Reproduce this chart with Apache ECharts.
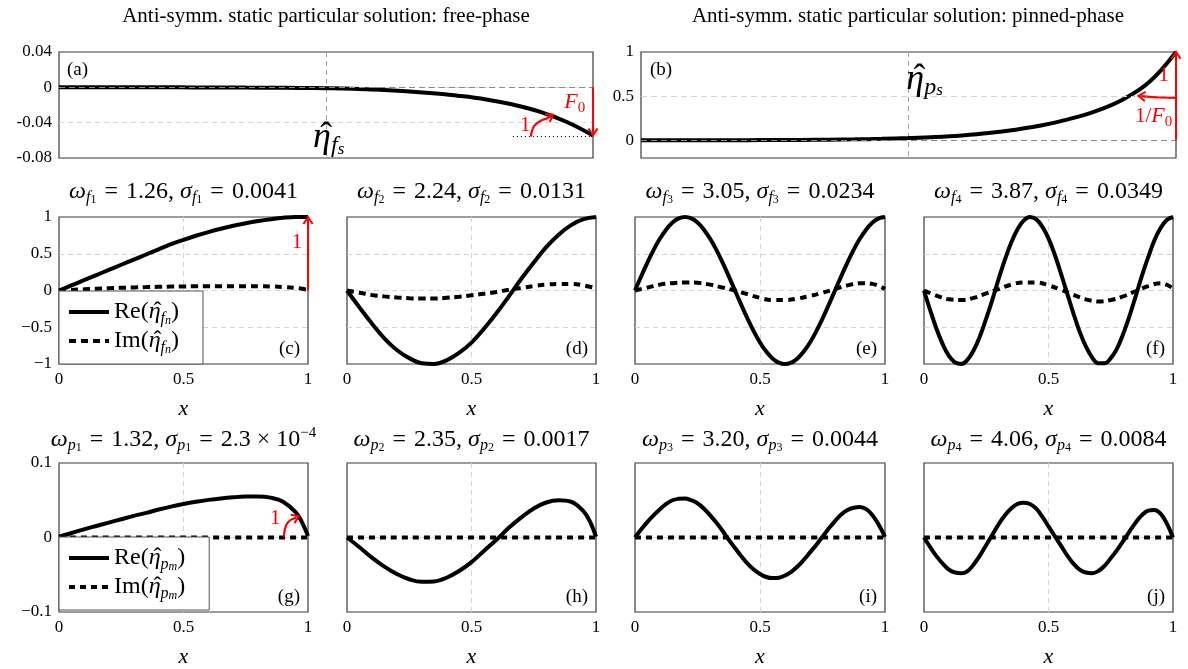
<!DOCTYPE html>
<html>
<head>
<meta charset="utf-8">
<script src="https://cdn.jsdelivr.net/npm/echarts@6/dist/echarts.min.js"></script>
<style>
html,body{margin:0;padding:0;background:#fff}
#chart{width:1188px;height:669px}
</style>
</head>
<body>
<div id="chart"></div>
<script>
// sample positions along x
var xCoarse = [0,0.05,0.1,0.15,0.2,0.25,0.3,0.35,0.4,0.45,0.5,0.55,0.6,0.65,0.7,0.75,0.8,0.85,0.9,0.95,1];
var xFine = [0,0.025,0.05,0.075,0.1,0.125,0.15,0.175,0.2,0.225,0.25,0.275,0.3,0.325,0.35,0.375,0.4,0.425,0.45,0.475,0.5,
  0.525,0.55,0.575,0.6,0.625,0.65,0.675,0.7,0.725,0.75,0.775,0.8,0.825,0.85,0.875,0.9,0.925,0.95,0.975,1];
var xEdge = [0,0.05,0.1,0.15,0.2,0.25,0.3,0.35,0.4,0.45,0.5,0.55,0.6,0.65,0.7,0.75,0.8,0.85,0.9,0.95,0.975,1];
var xEnds = [0,1];

// static particular solutions (a), (b)
var staticFree = [0,0,0,0,0,-0.0001,-0.0002,-0.0003,-0.0004,-0.0007,-0.001,-0.0016,-0.0028,-0.0045,-0.0068,-0.0097,-0.0137,-0.0195,-0.0275,-0.039,-0.0545];
var staticPinned = [0,0.0005,0.001,0.0015,0.002,0.003,0.005,0.007,0.011,0.017,0.026,0.038,0.056,0.082,0.12,0.17,0.24,0.33,0.46,0.66,1.0];

// free-phase modes (c)-(f)
var reF1 = [0,0.07,0.14,0.21,0.28,0.35,0.42,0.49,0.56,0.63,0.69,0.745,0.795,0.84,0.88,0.915,0.945,0.97,0.99,1.0,1.0];
var imF1 = [0,0.008,0.016,0.024,0.031,0.037,0.042,0.046,0.05,0.053,0.055,0.057,0.058,0.059,0.059,0.059,0.058,0.055,0.048,0.035,0.01];
var reF2 = [0,-0.23,-0.45,-0.65,-0.81,-0.92,-0.99,-1.0,-0.95,-0.85,-0.71,-0.52,-0.31,-0.08,0.16,0.38,0.59,0.76,0.89,0.97,1.0];
var imF2 = [0,-0.03,-0.06,-0.08,-0.095,-0.105,-0.11,-0.11,-0.1,-0.085,-0.065,-0.045,-0.02,0.01,0.035,0.06,0.08,0.09,0.09,0.07,0.03];
var reF3 = [0,0.195,0.383,0.556,0.707,0.831,0.924,0.981,1,0.981,0.924,0.831,0.707,0.556,0.383,0.195,0,-0.195,-0.383,-0.556,-0.707,
  -0.831,-0.924,-0.981,-1,-0.981,-0.924,-0.831,-0.707,-0.556,-0.383,-0.195,0,0.195,0.383,0.556,0.707,0.831,0.924,0.981,1];
var imF3 = [0,0.04,0.08,0.1,0.11,0.105,0.08,0.04,0,-0.05,-0.1,-0.13,-0.13,-0.11,-0.075,-0.03,0.02,0.07,0.1,0.09,0.02];
var reF4 = [0,-0.27,-0.52,-0.73,-0.89,-0.98,-1.0,-0.94,-0.81,-0.62,-0.38,-0.12,0.16,0.42,0.65,0.83,0.95,1.0,0.97,0.87,0.71,
  0.49,0.23,-0.04,-0.31,-0.56,-0.76,-0.91,-0.99,-0.99,-0.92,-0.79,-0.59,-0.35,-0.08,0.2,0.45,0.68,0.85,0.96,1.0];
var imF4 = [0,-0.07,-0.12,-0.13,-0.1,-0.04,0.02,0.08,0.11,0.11,0.07,0.01,-0.06,-0.12,-0.15,-0.13,-0.08,-0.01,0.06,0.1,0.03];

// pinned-phase modes (g)-(j)
var reP1 = [0.001,0.006,0.011,0.0155,0.02,0.0245,0.029,0.033,0.0375,0.0415,0.045,0.048,0.0505,0.0525,0.054,0.055,0.0552,0.0535,0.048,0.034,0.021,0.002];
var reP2 = [0,-0.013,-0.027,-0.039,-0.049,-0.056,-0.0595,-0.059,-0.054,-0.045,-0.033,-0.018,-0.003,0.013,0.027,0.039,0.047,0.05,0.048,0.035,0.022,0.001];
var reP3 = [0,0.011,0.021,0.03,0.038,0.045,0.05,0.052,0.0525,0.05,0.046,0.039,0.03,0.02,0.009,-0.003,-0.014,-0.025,-0.035,-0.043,-0.049,
  -0.053,-0.0545,-0.054,-0.051,-0.046,-0.039,-0.03,-0.02,-0.01,0.001,0.012,0.022,0.031,0.037,0.04,0.041,0.038,0.03,0.017,0.001];
var reP4 = [0,-0.013,-0.025,-0.035,-0.043,-0.047,-0.048,-0.045,-0.036,-0.024,-0.01,0.004,0.018,0.03,0.039,0.045,0.0465,0.045,0.039,0.028,0.015,
  0.002,-0.011,-0.024,-0.035,-0.043,-0.047,-0.048,-0.045,-0.038,-0.028,-0.017,-0.005,0.008,0.02,0.03,0.036,0.037,0.032,0.019,0];
var imP = [0,0];

// tick labels
var yTicksFree = [-0.08,-0.04,0,0.04];
var yTicksPinned = [0,0.5,1];
var yTicksModeF = [-1,-0.5,0,0.5,1];
var yTicksModeP = [-0.1,0,0.1];

var FONT = '"Liberation Serif","Times New Roman",serif';
var RED = '#ff0000';
var ARROW = 'path://M5,0 L10,8 L8.4,9 L5,3.6 L1.6,9 L0,8 Z';
var HAT = '\u2009\u02c6';   // drawn over the following eta (zero-width token)

function zip(xs, ys){ return xs.map(function(x,i){ return [x, ys[i]]; }); }
function near(v, list){
  for(var i=0;i<list.length;i++){ if(Math.abs(v-list[i])<1e-6) return true; }
  return false;
}
function minus(v){ return String(v).replace('-', '\u2212'); }

var richL = {
  n:{fontFamily:FONT, fontSize:24, color:'#000', lineHeight:30, verticalAlign:'middle'},
  m:{fontFamily:FONT, fontSize:24, fontStyle:'italic', color:'#000', lineHeight:30, verticalAlign:'middle'},
  h:{fontFamily:FONT, fontSize:24, color:'#000', lineHeight:30, verticalAlign:'middle', width:0, align:'left'},
  s:{fontFamily:FONT, fontSize:16, fontStyle:'italic', color:'#000', lineHeight:20, verticalAlign:'bottom'},
  ss:{fontFamily:FONT, fontSize:12, fontStyle:'italic', color:'#000', lineHeight:12, verticalAlign:'bottom'},
  e:{fontFamily:FONT, fontSize:36, fontStyle:'italic', color:'#000', lineHeight:40, verticalAlign:'middle'},
  eh:{fontFamily:FONT, fontSize:36, color:'#000', lineHeight:40, verticalAlign:'middle', width:0, align:'left'},
  es:{fontFamily:FONT, fontSize:24, fontStyle:'italic', color:'#000', lineHeight:22, verticalAlign:'bottom'},
  ess:{fontFamily:FONT, fontSize:17, fontStyle:'italic', color:'#000', lineHeight:12, verticalAlign:'bottom'},
  r:{fontFamily:FONT, fontSize:22, fontStyle:'italic', color:RED, lineHeight:26, verticalAlign:'middle'},
  rn:{fontFamily:FONT, fontSize:21, color:RED, lineHeight:26, verticalAlign:'middle'},
  rs:{fontFamily:FONT, fontSize:15, color:RED, lineHeight:14, verticalAlign:'bottom'}
};

var option = {
  backgroundColor:'#fff', animation:false,
  grid:[], xAxis:[], yAxis:[], series:[], legend:[], graphic:[]
};

function addPanel(box, cfg){
  var k = option.grid.length;
  option.grid.push({left:box[0], top:box[1], width:box[2], height:box[3], show:true,
    borderColor:'#3a3a3a', borderWidth:1.2, backgroundColor:'rgba(0,0,0,0)'});
  option.xAxis.push({
    type:'value', gridIndex:k, min:0, max:1, interval:0.5,
    axisLine:{show:false}, axisTick:{show:false},
    axisLabel:{show:!!cfg.xLabels, color:'#000', fontFamily:FONT, fontSize:17, margin:7},
    splitLine:{show:true, showMinLine:false, showMaxLine:false,
      lineStyle:{color:cfg.vGrid || '#d4d4d4', type:[5,4], width:1}},
    name:cfg.xLabels ? 'x' : '', nameLocation:'middle', nameGap:34,
    nameTextStyle:{fontFamily:FONT, fontStyle:'italic', fontSize:22, color:'#000'}
  });
  option.yAxis.push({
    type:'value', gridIndex:k, min:cfg.yMin, max:cfg.yMax, interval:cfg.yInterval,
    axisLine:{show:false}, axisTick:{show:false},
    axisLabel:{show:!!cfg.yTicks, color:'#000', fontFamily:FONT, fontSize:17, margin:7,
      formatter:function(v){
        if(!cfg.yTicks || !near(v, cfg.yTicks)) return '';
        var s = String(Math.round(v*1e6)/1e6);
        return cfg.trueMinus ? minus(s) : s;
      }},
    splitLine:{show:cfg.hGrid !== false, showMinLine:false, showMaxLine:false,
      lineStyle:{color:'#d4d4d4', type:[5,4], width:1}}
  });
  return k;
}

function curve(k, xs, ys, dashed, name, extra){
  var s = {
    type:'line', name:name || ('s' + option.series.length), xAxisIndex:k, yAxisIndex:k,
    data:zip(xs, ys), symbol:'none', smooth:0.4, clip:false, silent:true,
    z:dashed ? 2 : 3, itemStyle:{color:'#000'},
    lineStyle:{color:'#000', width:4, type:dashed ? (dashed === 'short' ? [6,5] : [7,5]) : 'solid', cap:'butt'}
  };
  for(var p in extra) s[p] = extra[p];
  option.series.push(s);
}

// small red curved arrow: arc drawn as a smooth line, head as a tiny markLine
function hookArrow(k, pts, head){
  option.series.push({
    type:'line', name:'hook' + option.series.length, xAxisIndex:k, yAxisIndex:k,
    data:pts, symbol:'none', smooth:0.6, clip:false, silent:true, z:6,
    itemStyle:{color:RED}, lineStyle:{color:RED, width:2.2},
    markLine:{silent:true, symbol:['none', ARROW], symbolSize:[11,9], label:{show:false},
      lineStyle:{color:RED, width:2.2, type:'solid'},
      data:[[{coord:head[0]}, {coord:head[1]}]]}
  });
}

function label(text, x, y, align){
  option.graphic.push({type:'text', x:x, y:y, z:100, silent:true,
    style:{text:text, fill:'#000', font:'19px ' + FONT, align:align || 'left', verticalAlign:'middle'}});
}
function richTitle(text, x, y){
  option.graphic.push({type:'text', x:x, y:y, z:100, silent:true,
    style:{text:text, align:'center', verticalAlign:'middle', rich:{
      n:{fill:'#000', fontFamily:FONT, fontSize:24, lineHeight:28, verticalAlign:'middle'},
      m:{fill:'#000', fontFamily:FONT, fontSize:24, fontStyle:'italic', lineHeight:28, verticalAlign:'middle'},
      s:{fill:'#000', fontFamily:FONT, fontSize:16, fontStyle:'italic', lineHeight:18, verticalAlign:'bottom'},
      ss:{fill:'#000', fontFamily:FONT, fontSize:12, lineHeight:10, verticalAlign:'bottom'},
      sup:{fill:'#000', fontFamily:FONT, fontSize:15, lineHeight:14, verticalAlign:'top'}
    }}});
}
function modeTitle(sub, wv, sv){
  var eq = '{n|\u2004=\u2004}';
  return '{m|\u03c9}{s|' + sub[0] + '}{ss|' + sub[1] + '}' + eq + '{n|' + wv + ', }{m|\u03c3}{s|' + sub[0] + '}{ss|' + sub[1] + '}' + eq + '{n|' + sv + '}';
}

var hidden = {symbol:'circle', symbolSize:1, itemStyle:{color:'rgba(0,0,0,0)'}, silent:true,
  label:{show:true, position:'inside', rich:richL}};
function marks(points){
  var m = {}; for(var p in hidden) m[p] = hidden[p];
  m.data = points.map(function(pt){ return {coord:[pt[0], pt[1]], label:{formatter:pt[2]}}; });
  return m;
}
function arrowLine(from, to){
  return [{coord:from, symbol:'none', lineStyle:{color:RED, width:2, type:'solid'}},
          {coord:to, symbol:ARROW, symbolSize:[11,9]}];
}
function refLine(value, color){
  return {yAxis:value, symbol:'none', lineStyle:{color:color, width:1.2, type:[6,4]}};
}

// (a) free-phase static
var ka = addPanel([59,52,534,106], {yMin:-0.08, yMax:0.04, yInterval:0.04, yTicks:yTicksFree, vGrid:'#a0a0a0'});
curve(ka, xCoarse, staticFree, false, 'etaFs', {
  markLine:{silent:true, symbol:['none','none'], label:{show:false}, data:[
    refLine(0, '#8a8a8a'),
    arrowLine([1,0], [1,-0.051]),
    [{coord:[0.85,-0.0555], symbol:'none', lineStyle:{color:'#000', width:1, type:[1,3]}}, {coord:[1,-0.0555], symbol:'none'}]
  ]},
  markPoint:marks([
    [0.505, -0.057, '{eh|' + HAT + '}{e|\u03b7}{es|f}{ess|s}'],
    [0.966, -0.017, '{r|F}{rs|0}'],
    [0.873, -0.043, '{rn|1}']
  ])
});
hookArrow(ka, [[0.884,-0.0556],[0.887,-0.047],[0.898,-0.0395],[0.913,-0.0355]], [[0.91,-0.0365],[0.921,-0.0325]]);

// (b) pinned-phase static
var kb = addPanel([641,52,535,106], {yMin:-0.2, yMax:1, yInterval:0.1, yTicks:yTicksPinned, hGrid:false, vGrid:'#a0a0a0'});
curve(kb, xCoarse, staticPinned, false, 'etaPs', {
  markLine:{silent:true, symbol:['none','none'], label:{show:false}, data:[
    refLine(0.5, '#d4d4d4'),
    refLine(0, '#8a8a8a'),
    arrowLine([1,0], [1,0.97])
  ]},
  markPoint:marks([
    [0.53, 0.69, '{eh|' + HAT + '}{e|\u03b7}{es|p}{ess|s}'],
    [0.977, 0.73, '{rn|1}'],
    [0.958, 0.27, '{rn|1/}{r|F}{rs|0}']
  ])
});
hookArrow(kb, [[1,0.48],[0.97,0.485],[0.945,0.495]], [[0.945,0.495],[0.935,0.5]]);

// (c)-(f)
var rowF = [[59,217,249,147],[347,217,249,147],[635,217,250,147],[924,217,249,147]];
var kc = addPanel(rowF[0], {yMin:-1, yMax:1, yInterval:0.5, yTicks:yTicksModeF, trueMinus:true, xLabels:true});
var kd = addPanel(rowF[1], {yMin:-1, yMax:1, yInterval:0.5, xLabels:true});
var ke = addPanel(rowF[2], {yMin:-1, yMax:1, yInterval:0.5, xLabels:true});
var kf = addPanel(rowF[3], {yMin:-1, yMax:1, yInterval:0.5, xLabels:true});
curve(kc, xCoarse, imF1, true, 'Im_c');
curve(kc, xCoarse, reF1, false, 'Re_c', {
  markLine:{silent:true, symbol:['none','none'], label:{show:false}, data:[arrowLine([1,0], [1,0.96])]},
  markPoint:marks([[0.956, 0.65, '{rn|1}']])
});
curve(kd, xCoarse, imF2, true);
curve(kd, xCoarse, reF2, false);
curve(ke, xCoarse, imF3, true);
curve(ke, xFine, reF3, false);
curve(kf, xCoarse, imF4, true);
curve(kf, xFine, reF4, false);

// (g)-(j)
var rowP = [[59,463,249,149],[347,463,249,149],[635,463,250,149],[924,463,249,149]];
var kg = addPanel(rowP[0], {yMin:-0.1, yMax:0.1, yInterval:0.1, yTicks:yTicksModeP, trueMinus:true, xLabels:true});
var kh = addPanel(rowP[1], {yMin:-0.1, yMax:0.1, yInterval:0.1, xLabels:true});
var ki = addPanel(rowP[2], {yMin:-0.1, yMax:0.1, yInterval:0.1, xLabels:true});
var kj = addPanel(rowP[3], {yMin:-0.1, yMax:0.1, yInterval:0.1, xLabels:true});
curve(kg, xEnds, imP, 'short', 'Im_g');
curve(kg, xEdge, reP1, false, 'Re_g', {
  markPoint:marks([[0.868, 0.025, '{rn|1}']])
});
hookArrow(kg, [[0.903,0.001],[0.908,0.012],[0.92,0.0205],[0.94,0.0252]], [[0.936,0.0245],[0.953,0.027]]);
curve(kh, xEnds, imP, 'short');
curve(kh, xEdge, reP2, false);
curve(ki, xEnds, imP, 'short');
curve(ki, xFine, reP3, false);
curve(kj, xEnds, imP, 'short');
curve(kj, xFine, reP4, false);

// legends inside (c) and (g)
function legendBox(top, names, sub){
  return {
    data:names, left:59, top:top, orient:'vertical', selectedMode:false,
    itemWidth:40, itemHeight:14, itemGap:2, padding:[9,24,8,8],
    backgroundColor:'#fff', borderColor:'#555', borderWidth:1, borderRadius:0, z:5,
    itemStyle:{opacity:0, borderWidth:0},
    lineStyle:{width:4, cap:'butt'},
    formatter:function(name){
      var head = name.indexOf('Re') === 0 ? 'Re' : 'Im';
      return '{n|' + head + '(}{h|' + HAT + '}{m|\u03b7}{s|' + sub[0] + '}{ss|' + sub[1] + '}{n|)}';
    },
    textStyle:{rich:richL}
  };
}
option.legend.push(legendBox(291, ['Re_c','Im_c'], ['f','n']));
option.legend.push(legendBox(537, ['Re_g','Im_g'], ['p','m']));

// headers and panel titles
option.graphic.push({type:'text', x:326, y:16, z:100, silent:true,
  style:{text:'Anti-symm. static particular solution: free-phase', fill:'#000', font:'21px ' + FONT, align:'center', verticalAlign:'middle'}});
option.graphic.push({type:'text', x:908, y:16, z:100, silent:true,
  style:{text:'Anti-symm. static particular solution: pinned-phase', fill:'#000', font:'21px ' + FONT, align:'center', verticalAlign:'middle'}});

var freeTitles = [['1.26','0.0041'],['2.24','0.0131'],['3.05','0.0234'],['3.87','0.0349']];
var pinTitles = [['1.32','2.3 \u00d7 10}{sup|\u22124'],['2.35','0.0017'],['3.20','0.0044'],['4.06','0.0084']];
for(var i=0;i<4;i++){
  richTitle(modeTitle(['f', String(i+1)], freeTitles[i][0], freeTitles[i][1]), rowF[i][0] + rowF[i][2]/2, 192);
  richTitle(modeTitle(['p', String(i+1)], pinTitles[i][0], pinTitles[i][1]), rowP[i][0] + rowP[i][2]/2, 440);
}

// panel letters
label('(a)', 67, 70, 'left');
label('(b)', 650, 70, 'left');
var lettersF = ['(c)','(d)','(e)','(f)'], lettersP = ['(g)','(h)','(i)','(j)'];
for(var j=0;j<4;j++){
  label(lettersF[j], rowF[j][0] + rowF[j][2] - 8, rowF[j][1] + rowF[j][3] - 15, 'right');
  label(lettersP[j], rowP[j][0] + rowP[j][2] - 8, rowP[j][1] + rowP[j][3] - 15, 'right');
}

var chart = echarts.init(document.getElementById('chart'), null, {renderer:'canvas'});
chart.setOption(option);
</script>
</body>
</html>
